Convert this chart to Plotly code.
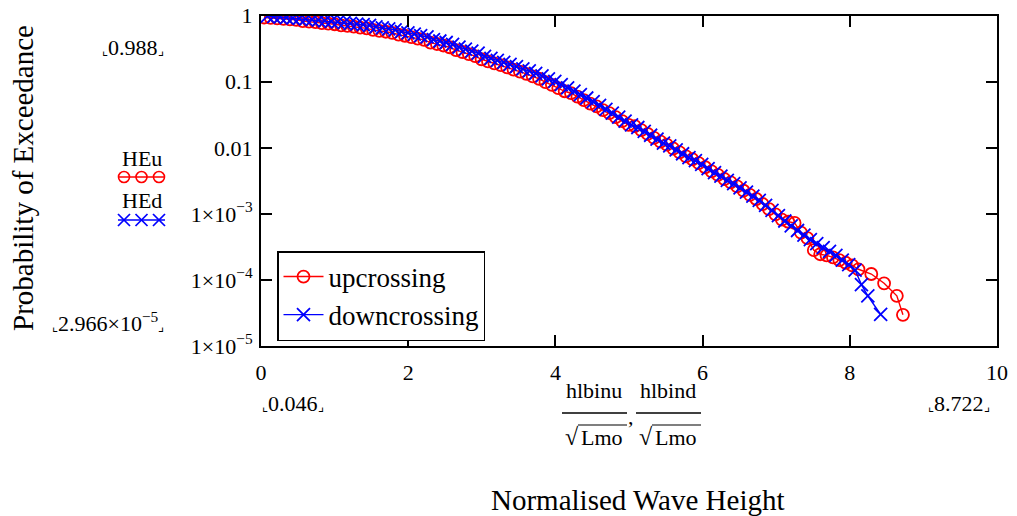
import plotly.graph_objects as go

# ---------------- data ----------------
up_x = [0.046, 0.133, 0.220, 0.306, 0.393, 0.480, 0.567, 0.654, 0.740, 0.827,
        0.914, 1.001, 1.088, 1.174, 1.261, 1.348, 1.435, 1.522, 1.608, 1.695,
        1.782, 1.869, 1.956, 2.042, 2.129, 2.216, 2.303, 2.390, 2.476, 2.563,
        2.650, 2.737, 2.824, 2.910, 2.997, 3.084, 3.171, 3.258, 3.344, 3.431,
        3.518, 3.605, 3.692, 3.778, 3.865, 3.952, 4.039, 4.126, 4.212, 4.299,
        4.386, 4.473, 4.560, 4.646, 4.733, 4.820, 4.907, 4.994, 5.080, 5.167,
        5.254, 5.341, 5.428, 5.514, 5.601, 5.688, 5.775, 5.862, 5.948, 6.035,
        6.122, 6.209, 6.296, 6.382, 6.469, 6.556, 6.643, 6.730, 6.816, 6.903,
        6.990, 7.077, 7.164, 7.250, 7.337, 7.424, 7.511, 7.598, 7.684, 7.771,
        7.858, 7.945, 8.032, 8.118, 8.292, 8.466, 8.639, 8.722]
up_p = [0.940, 0.924, 0.910, 0.896, 0.881, 0.867, 0.829, 0.815, 0.798, 0.773,
        0.759, 0.742, 0.716, 0.699, 0.682, 0.658, 0.643, 0.610, 0.591, 0.572,
        0.551, 0.517, 0.497, 0.474, 0.451, 0.431, 0.391, 0.373, 0.354, 0.333,
        0.301, 0.282, 0.262, 0.244, 0.219, 0.204, 0.190, 0.178, 0.165, 0.153,
        0.142, 0.132, 0.121, 0.111, 0.0988, 0.0899, 0.0803, 0.0718, 0.0671, 0.0595,
        0.0528, 0.0467, 0.0425, 0.0372, 0.0334, 0.0292, 0.0254, 0.0222, 0.0213, 0.0185,
        0.0162, 0.0141, 0.0124, 0.0112, 0.00976, 0.00851, 0.00743, 0.00671, 0.00586, 0.00508,
        0.00440, 0.00389, 0.00337, 0.00299, 0.00260, 0.00224, 0.00194, 0.00168, 0.00141, 0.00118,
        9.86e-4, 8.2e-4, 7.6e-4, 7.3e-4, 5.2e-4, 4.3e-4, 2.82e-4, 2.45e-4, 2.35e-4, 2.2e-4,
        2.0e-4, 1.82e-4, 1.66e-4, 1.45e-4, 1.23e-4, 8.9e-5, 5.75e-5, 2.966e-5]

down_x = [0.086, 0.173, 0.260, 0.346, 0.433, 0.520, 0.607, 0.694, 0.780, 0.867,
          0.954, 1.041, 1.128, 1.214, 1.301, 1.388, 1.475, 1.562, 1.648, 1.735,
          1.822, 1.909, 1.996, 2.082, 2.169, 2.256, 2.343, 2.430, 2.516, 2.603,
          2.690, 2.777, 2.864, 2.950, 3.037, 3.124, 3.211, 3.298, 3.384, 3.471,
          3.558, 3.645, 3.732, 3.818, 3.905, 3.992, 4.079, 4.166, 4.252, 4.339,
          4.426, 4.513, 4.600, 4.686, 4.773, 4.860, 4.947, 5.034, 5.120, 5.207,
          5.294, 5.381, 5.468, 5.554, 5.641, 5.728, 5.815, 5.902, 5.988, 6.075,
          6.162, 6.249, 6.336, 6.422, 6.509, 6.596, 6.683, 6.770, 6.856, 6.943,
          7.030, 7.117, 7.204, 7.290, 7.377, 7.464, 7.551, 7.638, 7.724, 7.811,
          7.898, 7.985, 8.072, 8.158, 8.245, 8.419]
down_p = [0.988, 0.968, 0.953, 0.938, 0.923, 0.908, 0.889, 0.873, 0.855, 0.838,
          0.822, 0.804, 0.785, 0.766, 0.748, 0.730, 0.713, 0.676, 0.655, 0.634,
          0.611, 0.573, 0.551, 0.525, 0.500, 0.478, 0.434, 0.414, 0.393, 0.369,
          0.334, 0.313, 0.291, 0.271, 0.243, 0.226, 0.211, 0.197, 0.183, 0.170,
          0.157, 0.146, 0.134, 0.123, 0.111, 0.101, 0.0902, 0.0807, 0.0722, 0.0640,
          0.0568, 0.0502, 0.0438, 0.0383, 0.0334, 0.0292, 0.0254, 0.0222, 0.0203, 0.0177,
          0.0155, 0.0135, 0.0118, 0.0107, 0.00932, 0.00813, 0.00710, 0.00641, 0.00560, 0.00485,
          0.00420, 0.00372, 0.00322, 0.00286, 0.00248, 0.00214, 0.00185, 0.00160, 0.00135, 0.00113,
          9.42e-4, 7.80e-4, 6.59e-4, 5.60e-4, 4.76e-4, 4.07e-4, 3.54e-4, 3.09e-4, 2.70e-4, 2.35e-4,
          2.0e-4, 1.70e-4, 1.41e-4, 8.5e-5, 5.75e-5, 3.0e-5]

x_ticks = [0, 2, 4, 6, 8, 10]
y_ticks = [1, 0.1, 0.01, 1e-3, 1e-4, 1e-5]
y_tick_text = ["1", "0.1", "0.01", "1×10<sup>−3</sup>", "1×10<sup>−4</sup>", "1×10<sup>−5</sup>"]

# ---------------- layout helpers ----------------
W, H = 1017, 516
FONT = "Liberation Serif, Times New Roman, serif"
RED, BLUE = "#ff0000", "#0000ff"


def px(x):
    return x / W


def py(y):
    return 1 - y / H


def corner(s):
    return ("<span style='font-size:13px'>⌞</span>" + s +
            "<span style='font-size:13px'>⌟</span>")


fig = go.Figure()
fig.add_trace(go.Scatter(x=up_x, y=up_p, mode="lines+markers", name="upcrossing",
                         line=dict(color=RED, width=1.4),
                         marker=dict(symbol="circle-open", size=12, color=RED,
                                     line=dict(width=1.8, color=RED))))
fig.add_trace(go.Scatter(x=down_x, y=down_p, mode="lines+markers", name="downcrossing",
                         line=dict(color=BLUE, width=1.4),
                         marker=dict(symbol="x-thin-open", size=13, color=BLUE,
                                     line=dict(width=1.8, color=BLUE))))

axis_common = dict(showline=True, linecolor="black", linewidth=2, mirror="ticks",
                   ticks="inside", ticklen=11, tickwidth=1.6, tickcolor="black",
                   showgrid=False, zeroline=False, automargin=False,
                   tickfont=dict(family=FONT, size=22, color="black"))

fig.update_layout(
    template="none",
    width=W, height=H,
    margin=dict(l=0, r=0, t=0, b=0, pad=0, autoexpand=False),
    paper_bgcolor="white", plot_bgcolor="white",
    font=dict(family=FONT, color="black"),
    xaxis=dict(domain=[px(261), px(997)], range=[0, 10], tickvals=x_ticks,
               ticklabelstandoff=6, **axis_common),
    yaxis=dict(domain=[py(346), py(15.7)], type="log", range=[-5, 0],
               tickvals=y_ticks, ticktext=y_tick_text, ticklabelstandoff=2,
               **axis_common),
    legend=dict(x=px(277), y=py(251), xanchor="left", yanchor="top",
                bgcolor="white", bordercolor="black", borderwidth=1.5,
                font=dict(family=FONT, size=27, color="black"),
                itemwidth=40, tracegroupgap=0),
)

ann = []


def text(x, y, s, size=22, xanchor="center", yanchor="middle", angle=0):
    ann.append(dict(x=px(x), y=py(y), xref="paper", yref="paper", text=s,
                    showarrow=False, xanchor=xanchor, yanchor=yanchor,
                    textangle=angle, font=dict(family=FONT, size=size, color="black")))


text(23, 178, "Probability of Exceedance", size=29, angle=-90)
text(638, 500, "Normalised Wave Height", size=29)
text(166, 48, corner("0.988"), xanchor="right")
text(164, 158, "HEu", xanchor="right")
text(164, 200, "HEd", xanchor="right")
text(166, 322, corner("2.966×10<sup>−5</sup>"), xanchor="right")
text(260, 403, corner("0.046"), xanchor="left")
text(992, 403, corner("8.722"), xanchor="right")
text(594, 390, "hlbinu")
text(668, 390, "hlbind")
text(631, 416, ",")
text(572, 437, "√", size=24)
text(602, 437, "Lmo")
text(646, 437, "√", size=24)
text(676, 437, "Lmo")
fig.update_layout(annotations=ann)

shapes = []


def seg(x0, y0, x1, y1, color="black", width=1.5):
    shapes.append(dict(type="line", xref="paper", yref="paper",
                       x0=px(x0), y0=py(y0), x1=px(x1), y1=py(y1),
                       line=dict(color=color, width=width)))


# fraction bars and radical overlines
seg(562, 413, 627, 413)
seg(636, 413, 701, 413)
seg(578, 425, 627, 425, width=1.2)
seg(652, 425, 701, 425, width=1.2)

# legend samples beside HEu / HEd
seg(118, 177, 165, 177, color=RED, width=1.3)
for cx in (124, 141.5, 159):
    shapes.append(dict(type="circle", xref="paper", yref="paper",
                       x0=px(cx - 5.5), x1=px(cx + 5.5), y0=py(177 - 5.5), y1=py(177 + 5.5),
                       line=dict(color=RED, width=1.6)))
seg(118, 220, 165, 220, color=BLUE, width=1.3)
for cx in (124, 141.5, 159):
    seg(cx - 6, 214, cx + 6, 226, color=BLUE, width=1.7)
    seg(cx - 6, 226, cx + 6, 214, color=BLUE, width=1.7)

fig.update_layout(shapes=shapes)

fig.write_html("out.html")
